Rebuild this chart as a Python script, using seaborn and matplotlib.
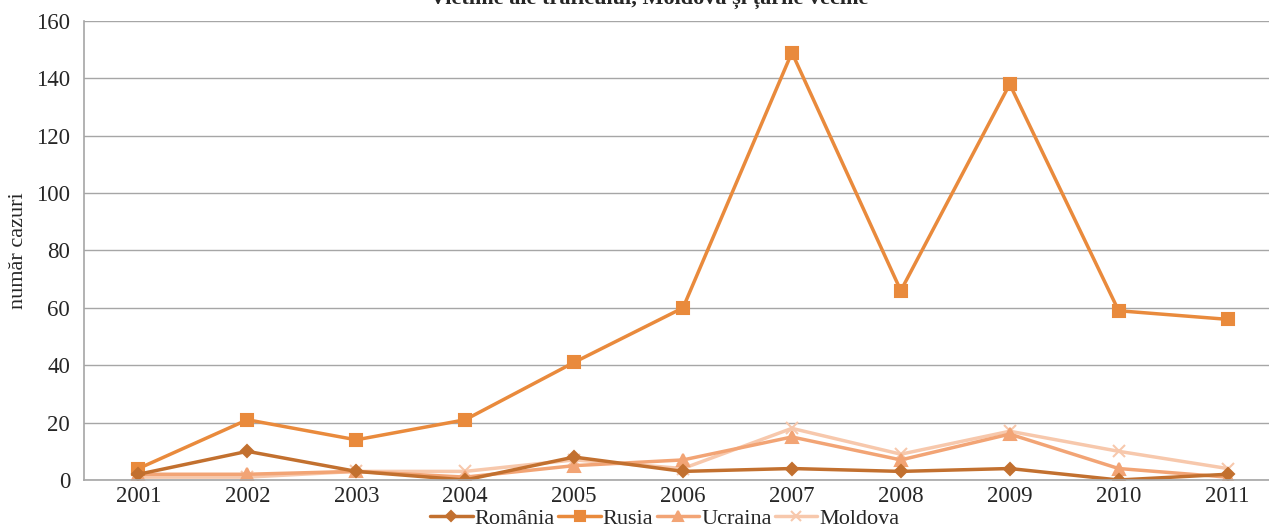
import pandas as pd
import numpy as np
import seaborn as sns
import matplotlib.pyplot as plt

years = ['2001', '2002', '2003', '2004', '2005', '2006',
         '2007', '2008', '2009', '2010', '2011']
romania = [2, 10, 3, 0, 8, 3, 4, 3, 4, 0, 2]
rusia = [4, 21, 14, 21, 41, 60, 149, 66, 138, 59, 56]
ucraina = [2, 2, 3, 1, 5, 7, 15, 7, 16, 4, 1]
moldova = [1, 1, 3, 3, 7, 4, 18, 9, 17, 10, 4]
countries = ['România', 'Rusia', 'Ucraina', 'Moldova']

df = pd.DataFrame({
    'An': years * 4,
    'Cazuri': romania + rusia + ucraina + moldova,
    'Tara': np.repeat(countries, len(years)),
})

sns.set_style('white')
plt.rcParams['font.family'] = ['Liberation Serif', 'DejaVu Serif']

colors = {'România': '#C2702F', 'Rusia': '#E98A3C',
          'Ucraina': '#F2A475', 'Moldova': '#F7C8AC'}
markers = {'România': 'D', 'Rusia': 's', 'Ucraina': '^', 'Moldova': 'x'}
msizes = {'România': 6, 'Rusia': 8, 'Ucraina': 8, 'Moldova': 8}

fig = plt.figure(figsize=(12.69, 5.31), dpi=100)
ax = fig.add_axes([84 / 1269, 1 - 480 / 531, 1198 / 1269, 459 / 531])

# draw Moldova first so that Romania / Rusia end up on top
for c in countries[::-1]:
    sub = df[df['Tara'] == c]
    sns.lineplot(data=sub, x='An', y='Cazuri', color=colors[c],
                 marker=markers[c], markersize=msizes[c],
                 markeredgewidth=1.5, markeredgecolor=colors[c],
                 linewidth=2.5, ax=ax, label=c, legend=False)

ax.set_xlim(-0.5, len(years) - 0.5)
ax.set_ylim(0, 160)
ax.set_yticks(range(0, 161, 20))
ax.yaxis.grid(True, color='#A6A6A6', linewidth=1)
ax.set_axisbelow(True)
for s in ['top', 'right']:
    ax.spines[s].set_visible(False)
for s in ['left', 'bottom']:
    ax.spines[s].set_color('#A6A6A6')
    ax.spines[s].set_linewidth(1.2)

ax.set_xticks(range(len(years)))
ax.set_xticklabels(years)
ax.set_xticks(np.arange(-0.5, len(years), 1), minor=True)
ax.tick_params(axis='x', which='major', length=0, labelsize=16.5, pad=4)
ax.tick_params(axis='x', which='minor', length=6, color='#A6A6A6', direction='out')
ax.tick_params(axis='y', length=6, color='#A6A6A6', labelsize=16.5,
               direction='out', pad=4)
ax.set_xlabel('')
ax.set_ylabel('număr cazuri', fontsize=16, labelpad=6)

fig.text(649 / 1269, 1 - 4 / 531,
         'Victime ale traficului, Moldova și țările vecine',
         ha='center', va='baseline', fontsize=16, fontweight='bold')

handles = []
for c in countries:
    h, = ax.plot([], [], color=colors[c], marker=markers[c], linewidth=2.5,
                 markersize=msizes[c] - 1, markeredgewidth=1.5,
                 markeredgecolor=colors[c], label=c)
    handles.append(h)
fig.legend(handles=handles, loc='center', ncol=4,
           bbox_to_anchor=(665 / 1269, 1 - 519 / 531), frameon=False,
           fontsize=16, handlelength=1.9, handletextpad=0.1,
           columnspacing=0.15, borderpad=0)

fig.savefig('out.png', dpi=100)
